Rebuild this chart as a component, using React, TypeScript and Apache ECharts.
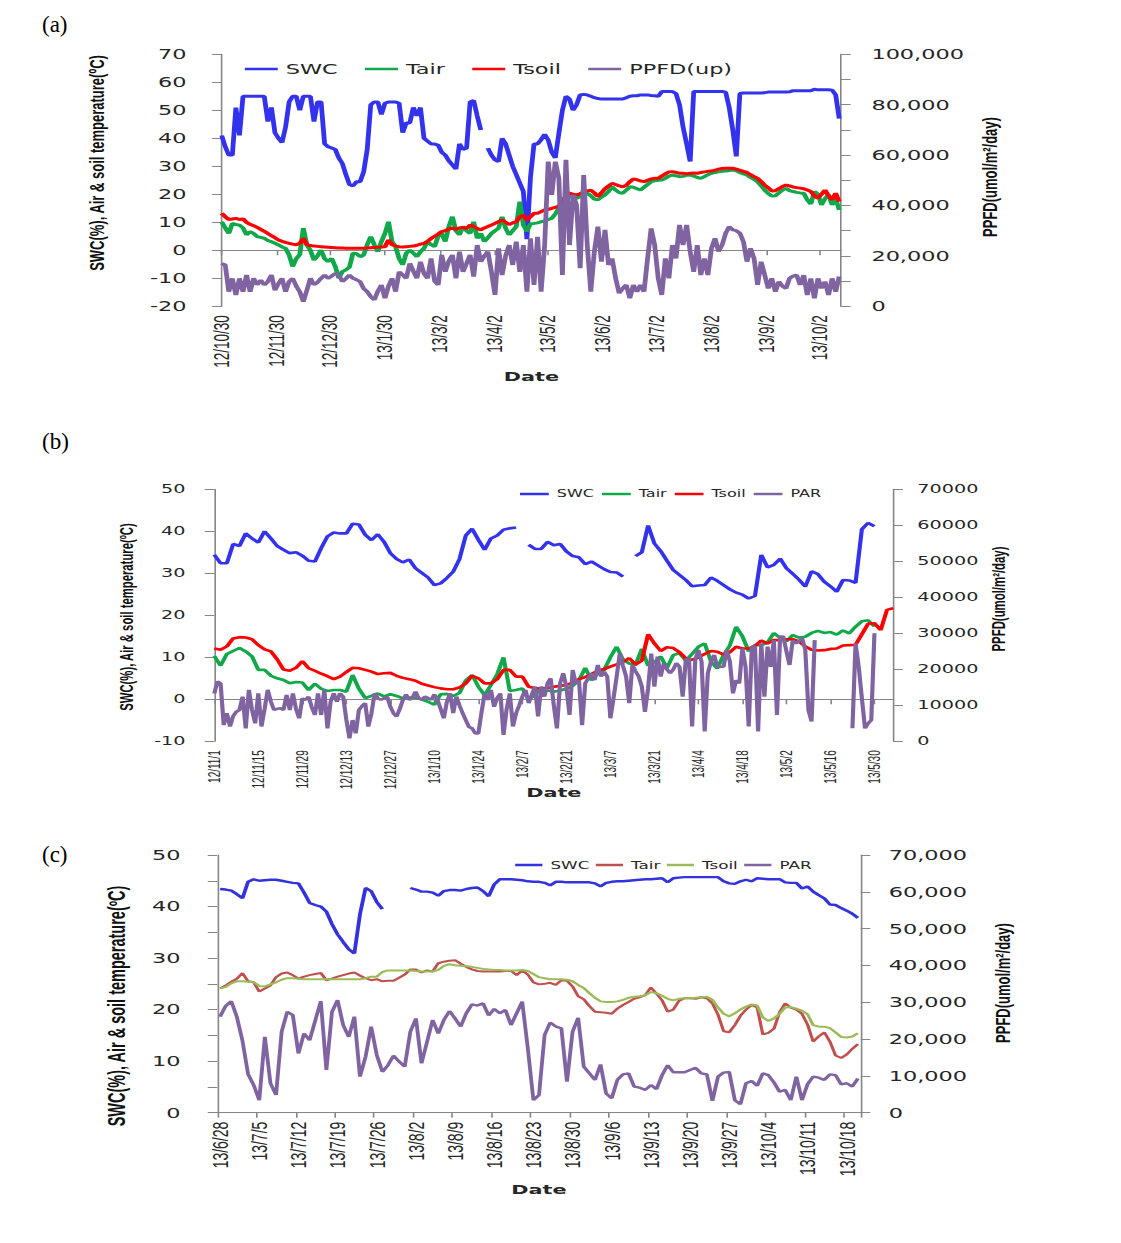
import { useEffect, useRef } from 'react';
import * as echarts from 'echarts';

// The reference figure is horizontally stretched; the chart is drawn in base
// units and the whole chart is scaled horizontally by STRETCH.
const STRETCH = 1.6;
const PAGE_W = 1121;
const PAGE_H = 1243;
const BASE_W = PAGE_W / STRETCH;

const AXIS = '#868686';
const TEXT = '#262626';

// ---------------- panel (a) ----------------
const startA = '2012-10-30';
const daysA = 350;
const stepA = 2;
const ticksA = ['12/10/30', '12/11/30', '12/12/30', '13/1/30', '13/3/2', '13/4/2', '13/5/2', '13/6/2', '13/7/2', '13/8/2', '13/9/2', '13/10/2'];
const swcA = [41, 37, 34, 34, 51, 41, 55, 55, 55, 55, 55, 55, 55, 46, 51, 42, 40, 38.5, 44, 53, 55, 55, 50, 55, 55, 55, 46, 53, 53, 38, 37, 36.5, 36, 33, 31, 27, 23.5, 23, 24.5, 24.5, 28, 36, 52, 53, 53, 48.5, 52.5, 53, 53, 53, 52.5, 42, 45.5, 45.5, 51, 48, 51, 40, 39, 38, 38, 37.5, 35, 34, 32, 30.5, 29, 38, 36, 36.5, 53, 53.5, 48, 43, null, 36.5, 34, 32.3, 31.7, 40, 38, 34, 30, 27, 24, 21, 4, 26, 38, 38, 39.5, 41.4, 39.4, 35, 33, 41.8, 50, 55, 54, 50, 52, 55.5, 55.7, 55.5, 55, 54.5, 54.2, 54, 54, 54, 54, 54, 54, 54, 54.5, 55, 55.2, 55.2, 55.5, 55.5, 55.5, 55.3, 55.2, 55, 56.7, 56.7, 56.7, 56.7, 56, 52, 44, 38, 31.7, 56.7, 56.7, 56.7, 56.7, 56.7, 56.7, 56.7, 56.7, 56.7, 56.5, 51, 43, 33.5, 56, 56.2, 56.2, 56.2, 56.2, 56.2, 56.2, 56.3, 56.5, 56.5, 56.5, 56.5, 56.5, 56.5, 56.6, 57, 57, 57, 57, 57, 57, 57.5, 57.3, 57.3, 57.3, 57.3, 57.2, 55.5, 47];
const tairA = [10.2, 8, 6, 9.6, 9.2, 9, 8, 5.5, 6.7, 6, 4.9, 4.6, 4.3, 3.5, 3.1, 2.5, 1.9, 1.2, 0.7, -1.7, -5.8, -3, -1.5, 7.9, 1.9, 0, -3.5, -2, 0.1, -3, -4, -2.9, -5.8, -10, -7.6, -7, -6, -1, -1.2, -2.3, -1.7, 2, 4.9, 2, -0.5, 3.1, 6, 10.2, 3.1, 1.3, -3, -5.2, -1, 0, -1, -2.3, -0.5, 0.7, 3.1, 2, 1.3, 5, 6, 3.1, 8.5, 12, 7, 5.5, 8.5, 7, 6, 10.2, 4.3, 6, 3.1, 4.5, 6, 7, 7.9, 12, 7.9, 5.5, 7, 8.5, 17.4, 9, 6.7, 9.5, 9.6, 9.8, 10.2, 10.5, 11, 11.4, 13, 15, 17, 19, 19.2, 18.8, 18.6, 19.2, 19.8, 20.4, 19.5, 18.3, 18, 19, 19.8, 21, 22.7, 21.5, 20.6, 20.4, 21.5, 22.7, 22.5, 22, 21.5, 22.5, 23.5, 24.5, 24.8, 25, 25.1, 25.7, 26.5, 26.9, 26.6, 26.3, 26.4, 26.8, 26.9, 26.5, 26, 25.7, 26.3, 27, 27.5, 27.8, 28, 28.2, 28.3, 28.5, 28.7, 28.4, 27.8, 27.3, 26.9, 26, 25.3, 24.5, 23, 21.5, 20.3, 19.4, 19.5, 20.5, 21.5, 22.1, 21.3, 21, 20.7, 20.5, 20.4, 18, 16.5, 21, 20, 16.2, 18.5, 19.8, 16.2, 18.5, 14.4];
const tsoilA = [13.2, 12, 11, 11.2, 11.4, 11, 11.2, 10, 9.3, 8.8, 8.2, 7.5, 6.8, 6, 5.2, 4.5, 3.7, 3.2, 2.8, 2.5, 2.2, 2, 2.5, 4.3, 2, 1.7, 1.5, 1.4, 1.3, 1.2, 1.1, 1, 0.9, 0.8, 0.8, 0.7, 0.7, 0.7, 0.7, 0.7, 0.7, 0.8, 0.9, 1, 1.1, 1.2, 1.3, 3.7, 2, 1.5, 1.3, 1.2, 1.3, 1.4, 1.5, 1.8, 2.2, 2.5, 3.2, 4.2, 5, 5.8, 6.7, 7, 7.6, 7.9, 7.5, 8, 8.2, 7.8, 9, 8.5, 7.8, 7.3, 8, 8.5, 9, 9.6, 10.2, 10.8, 10, 9.2, 9.8, 10.2, 12, 12.5, 10.8, 12, 13.2, 13.2, 13.8, 14.4, 14.6, 15, 15.3, 15.8, 17.5, 19.5, 20.4, 20, 19.8, 20.2, 20.8, 21.2, 21.5, 20.5, 19.2, 20.5, 22, 23, 23.9, 23.5, 23, 22.7, 23.2, 24.5, 25.5, 25.2, 24.8, 24.5, 25, 25.5, 25.7, 25.7, 26.5, 27.3, 28, 28.1, 27.8, 27.5, 27.5, 27.3, 27.5, 27.6, 27.5, 27.8, 28, 28.2, 28.3, 28.6, 29, 29.2, 29.3, 29.3, 29.3, 29, 28.6, 28.2, 27.8, 27, 26.3, 25.7, 24.5, 23.3, 22.3, 21.2, 21.3, 22, 22.8, 23.3, 23, 22.6, 22.4, 22.2, 22, 21.5, 21, 19.5, 18.6, 20, 21.5, 19.5, 18, 20.4, 17.4];
const ppfdA = [17000, 16400, 5800, 11100, 4500, 11100, 5800, 12400, 5800, 11100, 8500, 10400, 8500, 9800, 12400, 6400, 9000, 11100, 5800, 9800, 11100, 8000, 5800, 1800, 6400, 11100, 8500, 9500, 11100, 12400, 11100, 12000, 13000, 12400, 9800, 11000, 12400, 11100, 10500, 9800, 7000, 5800, 3800, 2500, 6000, 8500, 3200, 8000, 11100, 5800, 13700, 12500, 11100, 17000, 14000, 11100, 17700, 13000, 11100, 19000, 10000, 8500, 20400, 13700, 18000, 20400, 11100, 21700, 13700, 17000, 20400, 11800, 24300, 17700, 20000, 21700, 13700, 4500, 23000, 12400, 20000, 24300, 16400, 25700, 13700, 24300, 5800, 27000, 8500, 27600, 5800, 24300, 57400, 44200, 57400, 50800, 12400, 58100, 24300, 44200, 40200, 15100, 52100, 24300, 5800, 21700, 31600, 17700, 30300, 16400, 19000, 11100, 5200, 7100, 8500, 3200, 8500, 5800, 8500, 5800, 19000, 30900, 24300, 11100, 4500, 19000, 11100, 24300, 19000, 32300, 24300, 32300, 21700, 13700, 24300, 12400, 19000, 12400, 23000, 27000, 21700, 24300, 29000, 31600, 30300, 30000, 29000, 25700, 17700, 23000, 19000, 8500, 17700, 12400, 7100, 11100, 5800, 9800, 8000, 7100, 11100, 12000, 12400, 8500, 12400, 4500, 11100, 3200, 11100, 7100, 9800, 4500, 11100, 5800, 11800];

// ---------------- panel (b) ----------------
const startB = '2012-11-01';
const daysB = 217;
const stepB = 2;
const ticksB = ['12/11/1', '12/11/15', '12/11/29', '12/12/13', '12/12/27', '13/1/10', '13/1/24', '13/2/7', '13/2/21', '13/3/7', '13/3/21', '13/4/4', '13/4/18', '13/5/2', '13/5/16', '13/5/30'];
const swcB = [34.4, 32.4, 32.4, 37, 36.5, 39.5, 38.3, 37.3, 40, 38.3, 36.5, 35.6, 34.8, 35, 34.2, 33, 32.8, 36, 38.8, 39.7, 39.5, 39.5, 41.8, 41.6, 39.2, 37.9, 39.3, 37.5, 34.8, 33.4, 32.6, 33.3, 31.2, 30.1, 29, 27.2, 27.6, 28.9, 30.4, 33.4, 39, 40.6, 38, 35.6, 38.3, 39, 40.4, 40.7, 40.9, null, 36.8, 35.8, 35.8, 37.5, 36.7, 37, 35.2, 34.1, 33.8, 32.2, 32.8, 31.9, 31, 30.3, 30.2, 29.2, null, 34.1, 35, 41.4, 37.1, 35.3, 33, 30.8, 29.6, 28.4, 26.9, 27.1, 27.2, 29, 28.2, 27.2, 26.2, 25.4, 24.9, 24, 24.6, 34.4, 31.4, 32, 33.5, 31.2, 29.9, 28.5, 26.8, 30.5, 29.8, 28, 26.9, 25.6, 28.4, 28.3, 27.7, 40.5, 42, 41.2];
const tairB = [10.3, 8, 10.8, 11.5, 12.2, 11.4, 10.2, 7, 7, 5.6, 5, 4.6, 3.8, 4.1, 4, 2.2, 3.7, 2.5, 2, 2.2, 2.2, 1.8, 5.8, 2.5, 0.3, 0.8, 1.4, 0.7, 1.2, 0.8, 0.2, 0.4, 0.4, 0, -0.6, -1.3, 1.2, 1.3, 0.8, 1.5, 4.5, 5.8, 3, 1, 3.4, 6, 10, 2, 2.2, 2.6, 0, 1, 2.8, 2.1, 1.8, 2.1, 2.5, 3.2, 4.5, 7.5, 4.5, 6.2, 7, 10, 12.5, 9.5, 8.5, 8.2, 12, 8, 8.8, 10.2, 7.5, 10.5, 11, 9.2, 10.8, 12.5, 13.3, 9, 7.3, 10.5, 12.8, 17.3, 15, 11.4, 12.9, 12.9, 13.5, 15.8, 14.6, 13.8, 15.3, 14.7, 14.9, 15.8, 16.3, 15.8, 16, 15.4, 16.4, 15.7, 17.3, 18.6, 18.8, 17.3];
const tsoilB = [12.1, 11.8, 12.6, 14.5, 14.8, 14.7, 14.3, 12.9, 11.9, 11.4, 9.5, 7.1, 6.8, 7.5, 9.1, 7.4, 6.8, 6.1, 5.5, 4.8, 5.4, 6.5, 7.5, 7.4, 7, 6.6, 6, 6.2, 6.3, 5.6, 5.1, 4.8, 4.4, 3.7, 3.3, 2.9, 2.6, 2.4, 2.4, 2.8, 3.8, 5.6, 5, 3.8, 3.8, 4.8, 7, 7, 5.4, 5.4, 3, 2.7, 2.6, 2.7, 3, 3.2, 3.4, 4, 4.8, 5.3, 6, 6.8, 7.2, 7.8, 8.3, 8.9, 9.8, 8.3, 9.2, 15.5, 13.3, 11.5, 12.4, 12.2, 11.2, 9.7, 9.4, 10, 10.8, 11.5, 11.3, 10.7, 11.2, 12.5, 12.1, 12.1, 12.7, 14, 13.3, 14.1, 14.1, 14.3, 14.3, 13.8, 12.6, 11.8, 11.6, 11.7, 12, 12.1, 12.8, 12.9, 13, 15.5, 18, 18.1, 16.5, 21.3, 21.7];
const parB = [13300, 16600, 16100, 4500, 7800, 4100, 7000, 8200, 8700, 12400, 3600, 14300, 8700, 5000, 13300, 4100, 9000, 14300, 11000, 8700, 9000, 9200, 8700, 12900, 8700, 13300, 9000, 6400, 11900, 11500, 12400, 9500, 7300, 13300, 7300, 14300, 3600, 11000, 13300, 11000, 13300, 12400, 6000, 800, 5900, 2200, 8700, 9800, 10600, 4100, 7800, 13300, 12000, 11500, 12000, 12400, 9600, 7800, 6900, 9000, 11500, 13000, 11500, 12000, 13800, 12000, 11500, 12400, 12000, 11500, 13000, 11500, 9000, 6400, 11000, 13300, 7800, 12400, 10000, 7800, 5900, 4000, 3600, 2200, 2200, 8000, 13300, 11500, 14300, 9600, 12000, 13300, 1800, 9000, 13300, 4100, 7800, 10000, 12400, 14300, 10600, 13000, 15200, 6900, 15200, 12400, 16100, 17500, 10000, 3600, 16100, 18900, 15200, 7300, 19800, 16100, 17000, 4500, 16100, 17500, 18900, 17000, 21200, 18000, 19300, 18000, 6400, 12000, 18000, 24400, 21000, 18000, 10600, 21200, 19500, 18000, 15200, 8200, 14700, 24400, 15200, 23500, 18000, 21700, 20000, 18900, 20000, 21700, 20700, 12400, 22600, 23100, 4100, 22600, 25400, 22200, 2700, 18900, 22200, 24000, 20700, 20700, 20700, 25400, 22200, 13300, 17000, 16100, 25800, 20700, 4100, 26300, 26300, 2700, 27200, 12400, 26300, 20700, 28100, 7300, 29100, 29100, 25000, 21200, 28100, 27200, 27800, 28600, 25400, 8700, 5500, 28100, null, null, null, null, null, null, null, null, null, null, null, 3600, 27200, 20700, 12000, 3600, 5000, 5900, 30000];

// ---------------- panel (c) ----------------
const startC = '2013-06-28';
const daysC = 115;
const stepC = 1;
const ticksC = ['13/6/28', '13/7/5', '13/7/12', '13/7/19', '13/7/26', '13/8/2', '13/8/9', '13/8/16', '13/8/23', '13/8/30', '13/9/6', '13/9/13', '13/9/20', '13/9/27', '13/10/4', '13/10/11', '13/10/18'];
const swcC = [43.4, 43.3, 43.1, 42.4, 41.6, 44.8, 45.3, 45, 45.1, 45.2, 45.2, 45, 44.8, 44.6, 44.5, 42.7, 40.7, 40.3, 40, 39, 36.6, 34.6, 33.1, 31.7, 30.9, 38.5, 43.6, 43, 40.9, 39.5, null, null, null, null, 43.6, 43.3, 42.9, 42.9, 42.7, 42.1, 43, 43.2, 43.2, 43.1, 43.4, 43.6, 43.7, 43, 42, 44.3, 45.3, 45.3, 45.3, 45.2, 45.1, 44.9, 44.8, 44.8, 44.6, 44.1, 44.8, 44.8, 44.7, 44.7, 44.7, 44.7, 44.7, 44.5, 43.9, 44.6, 44.8, 44.9, 44.9, 45, 45.1, 45.2, 45.3, 45.3, 45.4, 45.5, 44.7, 45.5, 45.6, 45.7, 45.7, 45.7, 45.7, 45.7, 45.7, 45.7, 44.9, 44.5, 44.4, 44.9, 45.2, 44.9, 45.5, 45.4, 45.3, 45.3, 45.3, 44.7, 44.6, 44.6, 43.5, 43.9, 42.9, 42.2, 41.6, 40.4, 40.3, 39.7, 39.2, 38.6, 37.8];
const tairC = [24.1, 24.7, 25.4, 26, 27.1, 25.5, 25.3, 23.5, 24.1, 24.7, 26.3, 27, 27.2, 26.7, 26, 26.4, 26.7, 26.9, 27.1, 25.7, 26, 26.4, 26.7, 27, 27.2, 26.6, 26.1, 25.7, 25.9, 25.5, 25.6, 25.6, 26.2, 26.8, 27.8, 27.8, 27.2, 27.6, 27.4, 29, 29.3, 29.5, 29.6, 28.9, 28.3, 27.8, 27.5, 27.4, 27.4, 27.4, 27.4, 27.5, 27.5, 26.7, 27.6, 26.8, 25.3, 24.9, 25, 25.2, 24.8, 25.7, 25.6, 24.5, 22.6, 22, 20.7, 19.6, 19.5, 19.4, 19.2, 20.2, 20.9, 21.5, 22.1, 22.4, 22.8, 24.3, 23.1, 21.8, 19.6, 20, 21.7, 22.2, 22.2, 22.1, 22.4, 22.2, 21.2, 19, 15.8, 15.6, 17, 18.8, 20, 20.9, 20.4, 15.2, 15.5, 16.3, 19.5, 21.2, 20.4, 20, 19.2, 17.1, 13.8, 14.8, 15.6, 13.8, 11.1, 10.6, 11.3, 12.4, 13.3];
const tsoilC = [24.1, 24.4, 25.1, 25.5, 25.5, 25.4, 25.3, 24.6, 24.5, 24.9, 25.3, 25.8, 26.1, 26.1, 26, 25.9, 25.9, 25.9, 25.9, 25.9, 25.9, 25.9, 25.9, 25.9, 25.9, 25.9, 26.1, 26.4, 26.4, 27.3, 27.6, 27.6, 27.6, 27.6, 27.6, 27.5, 27.4, 27.4, 27.4, 27.7, 28.5, 28.8, 28.6, 28.5, 28.4, 28.3, 28.1, 27.9, 27.8, 27.7, 27.7, 27.6, 27.6, 27.6, 27.7, 27.5, 26.9, 26.3, 26.1, 25.9, 25.9, 25.9, 25.8, 25.5, 24.8, 24.2, 23.2, 22.3, 21.6, 21.5, 21.5, 21.6, 21.9, 22.3, 22.5, 22.6, 22.8, 23.4, 23.2, 22.7, 22.1, 21.8, 22.1, 22.2, 22.2, 22.3, 22.4, 22.5, 21.9, 20.4, 19.2, 18.7, 19.3, 20, 20.6, 21, 20.8, 18.5, 17.8, 18.3, 19.2, 20.4, 20.5, 20.2, 19.8, 19.1, 17, 16.7, 16.7, 16.4, 15.6, 14.7, 14.6, 14.8, 15.4];
const parC = [26100, 29000, 30300, 26000, 19500, 10500, 7500, 3400, 20600, 8000, 4800, 22000, 27400, 26500, 16100, 21500, 19700, 25000, 30300, 11600, 27400, 30600, 23800, 20600, 26100, 9800, 15200, 23400, 15700, 11100, 12900, 15500, 13900, 12500, 22000, 25600, 13400, 19300, 25200, 21500, 25200, 27600, 25600, 23400, 27000, 29400, 29100, 29700, 26400, 28200, 27000, 27900, 23800, 27000, 30200, 17500, 3400, 4800, 21100, 24500, 23400, 22900, 8400, 22000, 25800, 12500, 10700, 8900, 13100, 5200, 3900, 8900, 10400, 10700, 7100, 6800, 6200, 7500, 6400, 10200, 12900, 11000, 11000, 11000, 11600, 12200, 10700, 10400, 3200, 9800, 10900, 11100, 3400, 2300, 8000, 8600, 7300, 10700, 10200, 8200, 5700, 6200, 3400, 9800, 3400, 7700, 9800, 9500, 8900, 10400, 10200, 7700, 8000, 7100, 9300];

const LEFT_TITLE = 'SWC(%), Air & soil temperature(ºC)';
const RIGHT_TITLE = 'PPFD(umol/m²/day)';

function makeDays(start: string, n: number): string[] {
  const [y, m, d] = start.split('-').map(Number);
  const t0 = Date.UTC(y, m - 1, d);
  const out: string[] = [];
  for (let i = 0; i < n; i++) {
    const dt = new Date(t0 + i * 86400000);
    out.push(`${String(dt.getUTCFullYear()).slice(2)}/${dt.getUTCMonth() + 1}/${dt.getUTCDate()}`);
  }
  return out;
}

const pairs = (vals: (number | null)[], step: number) =>
  vals.map((v, i) => [i * step, v === null ? '-' : v]);

function xAxisFor(grid: number, cats: string[], ticks: string[], boundaryGap: boolean, fontSize: number, nameGap: number) {
  const set = new Set(ticks);
  const show = (_i: number, v: string) => set.has(v);
  return {
    type: 'category',
    gridIndex: grid,
    data: cats,
    boundaryGap,
    axisLine: { show: true, lineStyle: { color: AXIS, width: 1 } },
    axisTick: { show: true, interval: show, length: 5, lineStyle: { color: AXIS } },
    axisLabel: { interval: show, rotate: 90, margin: 9, fontFamily: 'Liberation Sans', fontSize, color: TEXT },
    splitLine: { show: false },
    name: 'Date',
    nameLocation: 'middle',
    nameGap,
    nameMoveOverlap: false,
    nameTextStyle: { fontFamily: 'DejaVu Sans', fontWeight: 'bold', fontSize: 13, color: TEXT },
  };
}

function yAxisFor(grid: number, position: string, min: number, max: number, interval: number,
  formatter: (v: number) => string, fontSize: number, margin: number) {
  return {
    type: 'value',
    gridIndex: grid,
    position,
    min,
    max,
    interval,
    axisLine: { show: true, lineStyle: { color: AXIS, width: 1 } },
    axisTick: { show: true, length: 6, lineStyle: { color: AXIS } },
    splitLine: { show: false },
    axisLabel: { formatter, fontFamily: 'DejaVu Sans', fontSize, color: TEXT, margin },
  };
}

function line(name: string, color: string, width: number, axis: number, yAxis: number, data: any[]) {
  return {
    type: 'line',
    name,
    xAxisIndex: axis,
    yAxisIndex: yAxis,
    data,
    showSymbol: false,
    symbol: 'none',
    color,
    lineStyle: { color, width },
    connectNulls: false,
    emphasis: { disabled: true },
  };
}

function legendFor(left: number, top: number, names: string[], fontSize: number, itemWidth: number, itemGap: number) {
  return {
    left,
    top,
    orient: 'horizontal',
    padding: 0,
    data: names,
    icon: 'rect',
    itemWidth,
    itemHeight: 2.5,
    itemGap,
    formatter: (n: string) => n.split('#')[0],
    textStyle: { fontFamily: 'DejaVu Sans', fontSize, color: TEXT },
  };
}

function vTitle(x: number, y: number, text: string, size: number) {
  return {
    type: 'text',
    x,
    y,
    rotation: Math.PI / 2,
    style: {
      text,
      font: `bold ${size}px "Liberation Sans", Arial, sans-serif`,
      fill: '#111',
      align: 'center',
      verticalAlign: 'middle',
      textAlign: 'center',
      textVerticalAlign: 'middle',
    },
  };
}

function panelLabel(y: number, text: string) {
  return {
    type: 'text',
    x: 42 / STRETCH,
    y,
    scaleX: 1 / STRETCH,
    style: {
      text,
      font: '23px "Liberation Serif", serif',
      fill: '#000',
      align: 'left',
      verticalAlign: 'middle',
      textAlign: 'left',
      textVerticalAlign: 'middle',
    },
  };
}

const thousands = (v: number) => v.toLocaleString('en-US');

export default function App() {
  const ref = useRef<HTMLDivElement>(null);

  useEffect(() => {
    if (!ref.current) return;
    const chart = echarts.init(ref.current, undefined, { renderer: 'svg' });

    const catsA = makeDays(startA, daysA);
    const catsB = makeDays(startB, daysB);
    const catsC = makeDays(startC, daysC);

    const option = {
      animation: false,
      backgroundColor: '#fff',
      grid: [
        { left: 221.7 / STRETCH, top: 54.3, width: (841 - 221.7) / STRETCH, height: 252, containLabel: false },
        { left: 214.3 / STRETCH, top: 489.3, width: (893.3 - 214.3) / STRETCH, height: 252, containLabel: false },
        { left: 217.3 / STRETCH, top: 855, width: (860.7 - 217.3) / STRETCH, height: 257.7, containLabel: false },
      ],
      xAxis: [
        xAxisFor(0, catsA, ticksA, false, 13.5, 64),
        xAxisFor(1, catsB, ticksB, false, 10, 45),
        xAxisFor(2, catsC, ticksC, true, 14, 70),
      ],
      yAxis: [
        yAxisFor(0, 'left', -20, 70, 10, (v) => String(v), 14, 22),
        yAxisFor(0, 'right', 0, 100000, 10000, (v) => (v % 20000 === 0 ? thousands(v) : ''), 14, 19),
        yAxisFor(1, 'left', -10, 50, 10, (v) => String(v), 12, 18),
        yAxisFor(1, 'right', 0, 70000, 10000, (v) => String(v), 12, 15),
        yAxisFor(2, 'left', 0, 50, 5, (v) => (v % 10 === 0 ? String(v) : ''), 14, 23),
        yAxisFor(2, 'right', 0, 70000, 10000, (v) => thousands(v), 14, 17.5),
      ],
      legend: [
        legendFor(153, 62, ['SWC#a', 'Tair#a', 'Tsoil#a', 'PPFD(up)#a'], 14, 20.6, 17),
        legendFor(325, 489, ['SWC#b', 'Tair#b', 'Tsoil#b', 'PAR#b'], 10, 18, 5),
        legendFor(322, 859.5, ['SWC#c', 'Tair#c', 'Tsoil#c', 'PAR#c'], 10.5, 17, 4),
      ],
      series: [
        line('SWC#a', '#3333ee', 3, 0, 0, pairs(swcA, stepA)),
        line('Tair#a', '#11a84a', 3, 0, 0, pairs(tairA, stepA)),
        line('Tsoil#a', '#ff0000', 3, 0, 0, pairs(tsoilA, stepA)),
        line('PPFD(up)#a', '#8064a2', 3, 0, 1, pairs(ppfdA, stepA)),
        line('SWC#b', '#3333ee', 2.6, 1, 2, pairs(swcB, stepB)),
        line('Tair#b', '#11a84a', 2.6, 1, 2, pairs(tairB, stepB)),
        line('Tsoil#b', '#ff0000', 2.6, 1, 2, pairs(tsoilB, stepB)),
        line('PAR#b', '#8064a2', 2.6, 1, 3, pairs(parB, 1)),
        line('SWC#c', '#3333dd', 2.4, 2, 4, pairs(swcC, stepC)),
        line('Tair#c', '#c0504d', 2, 2, 4, pairs(tairC, stepC)),
        line('Tsoil#c', '#9bbb59', 2, 2, 4, pairs(tsoilC, stepC)),
        line('PAR#c', '#8064a2', 2.4, 2, 5, pairs(parC, stepC)),
      ],
      graphic: [
        panelLabel(24, '(a)'),
        panelLabel(441, '(b)'),
        panelLabel(854, '(c)'),
        vTitle(97 / STRETCH, 163, LEFT_TITLE, 13),
        vTitle(990 / STRETCH, 177, RIGHT_TITLE, 13),
        vTitle(126 / STRETCH, 617, LEFT_TITLE, 11.3),
        vTitle(998 / STRETCH, 599, RIGHT_TITLE, 11.4),
        vTitle(117 / STRETCH, 1006, LEFT_TITLE, 14.5),
        vTitle(1003 / STRETCH, 983, RIGHT_TITLE, 13),
      ],
    };

    chart.setOption(option as any);
    return () => chart.dispose();
  }, []);

  return (
    <div style={{ position: 'absolute', left: 0, top: 0, width: PAGE_W, height: PAGE_H, overflow: 'hidden', background: '#fff' }}>
      <div
        ref={ref}
        style={{ width: BASE_W, height: PAGE_H, transform: `scaleX(${STRETCH})`, transformOrigin: '0 0' }}
      />
    </div>
  );
}
